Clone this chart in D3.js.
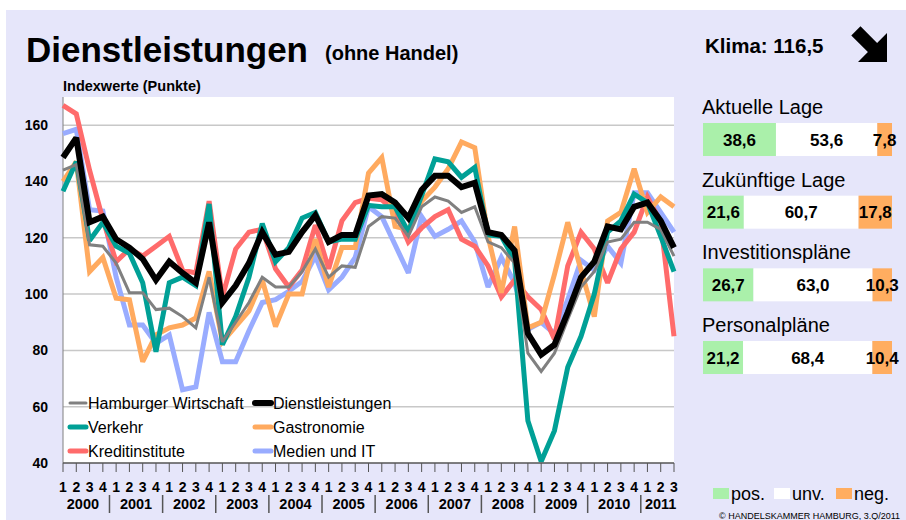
<!DOCTYPE html>
<html>
<head>
<meta charset="utf-8">
<script src="https://cdn.jsdelivr.net/npm/d3@7"></script>
<style>
  body { margin: 0; background: #fff; }
  svg { display: block; font-family: "Liberation Sans", Arial, sans-serif; }
</style>
</head>
<body>
<svg id="chart" width="906" height="520"></svg>
<script>
var years = ["2000", "2001", "2002", "2003", "2004", "2005", "2006", "2007", "2008", "2009", "2010", "2011"];
var quartersInYear = [4, 4, 4, 4, 4, 4, 4, 4, 4, 4, 4, 3];

var hamburg = [144, 146, 117.5, 117, 111, 100.5, 100.5, 94.5, 95, 92, 88, 106, 83, 90, 97, 106, 102.5, 102.5, 108, 116, 106, 110, 109.5, 124, 127.5, 127, 120.5, 131, 134.5, 133, 129, 131, 118.5, 116.5, 111, 79, 72.5, 79, 91, 102.5, 108, 118.5, 119.5, 125.5, 125.5, 123, 113.5];
var dienst = [148.5, 155.5, 125.5, 127.5, 119.5, 116.5, 112.5, 105, 111.5, 107.5, 104, 125.5, 97, 103, 111, 122, 114, 115, 122, 128, 118.5, 121, 121, 135, 135.5, 132.5, 127, 137, 142, 142, 138, 139.5, 122, 121, 115.5, 86, 78.5, 82, 93.5, 106, 111.5, 124, 123, 131, 132.5, 126, 116.5];
var verkehr = [136.5, 147, 119, 125.5, 117, 114.5, 104, 79.5, 104, 106, 103, 132, 82, 92, 106, 125, 111.5, 116.5, 127, 129, 118.5, 119.5, 119.5, 131.5, 131, 131, 122, 135, 148, 147, 141.5, 145, 121, 120.5, 112, 55, 40.5, 51.5, 74, 85, 100, 122, 126, 135.5, 132.5, 120.5, 108];
var gastro = [140, 147, 108, 113, 98.5, 98, 76, 85.5, 88, 89, 91.5, 108, 83, 88.5, 94, 105, 88.5, 100, 100, 119.5, 102.5, 116.5, 116.5, 143, 148.5, 124, 123, 133, 138, 144.5, 154, 152, 120.5, 100.5, 124, 88, 90, 107, 125.5, 108.5, 92, 126, 129, 144.5, 129, 134.5, 131];
var kredit = [167, 164, 144, 126.5, 111.5, 116, 113.5, 117, 120.5, 108.5, 107.5, 133, 99, 116, 122, 123, 109, 102.5, 108.5, 124.5, 109, 126, 132.5, 134, 133.5, 129.5, 118.5, 123.5, 127.5, 130, 119.5, 117, 110, 99, 105, 99, 94.5, 84, 110, 122, 116, 104, 116, 122, 134.5, 125.5, 85];
var medien = [157, 158.5, 130, 129.5, 106, 89, 89, 82.5, 85.5, 66, 67, 93.5, 76, 76, 87, 97, 98, 101, 104.5, 113.5, 101.5, 106, 113, 131, 127.5, 117.5, 107.5, 127.5, 120.5, 123, 126, 118.5, 102.5, 113, 104, 87.5, 90, 86, 98, 112, 108.5, 117, 111, 136, 136, 129, 122];

var seriesNames = ["Hamburger Wirtschaft", "Dienstleistungen", "Verkehr", "Gastronomie", "Kreditinstitute", "Medien und IT"];
var seriesColors = ["#808080", "#000000", "#00A096", "#FFAA5F", "#FF6B6B", "#99ACFF"];
var seriesWidths = [3, 6, 5, 5, 5, 5];

var yTicks = [40, 60, 80, 100, 120, 140, 160];

var surveyRows = ["Aktuelle Lage", "Zukünftige Lage", "Investitionspläne", "Personalpläne"];
var posValues = [38.6, 21.6, 26.7, 21.2];
var unvValues = [53.6, 60.7, 63.0, 68.4];
var negValues = [7.8, 17.8, 10.3, 10.4];
var keyLabels = ["pos.", "unv.", "neg."];
var keyColors = ["#AAF0AA", "#FFFFFF", "#FFAD60"];
var klima = "116,5";

(function() {
  var svg = d3.select("#chart");
  var allSeries = [hamburg, dienst, verkehr, gastro, kredit, medien];

  // quarter categories
  var cats = [];
  years.forEach(function(yr, i) {
    for (var q = 1; q <= quartersInYear[i]; q++) {
      cats.push({ key: yr + "Q" + q, year: yr, q: q });
    }
  });

  var x = d3.scalePoint().domain(cats.map(function(d) { return d.key; })).range([63, 674]);
  var y = d3.scaleLinear().domain([40, 170]).range([463, 97]);

  // background
  svg.append("rect").attr("x", 6).attr("y", 10).attr("width", 900).attr("height", 510)
    .attr("fill", "#E6E6FA");
  svg.append("rect").attr("x", 63).attr("y", y(170)).attr("width", 674 - 63).attr("height", y(40) - y(170))
    .attr("fill", "#fff");

  // titles
  svg.append("text").attr("x", 26).attr("y", 62).attr("font-size", 35).attr("font-weight", "bold")
    .text("Dienstleistungen");
  svg.append("text").attr("x", 325).attr("y", 60).attr("font-size", 20).attr("font-weight", "bold")
    .text("(ohne Handel)");
  svg.append("text").attr("x", 63).attr("y", 91).attr("font-size", 14.5).attr("font-weight", "bold")
    .text("Indexwerte (Punkte)");
  svg.append("text").attr("x", 705).attr("y", 53).attr("font-size", 20.5).attr("font-weight", "bold")
    .text("Klima: " + klima);

  // trend arrow
  svg.append("path")
    .attr("transform", "translate(887,62) rotate(45)")
    .attr("d", "M0,0 L-20.5,-20.5 L-20.5,-6.5 L-44,-6.5 L-44,6.5 L-20.5,6.5 L-20.5,20.5 Z")
    .attr("fill", "#000");

  // grid
  svg.append("g").selectAll("line").data(yTicks.slice(1)).enter().append("line")
    .attr("x1", 63).attr("x2", 674)
    .attr("y1", function(d) { return y(d); }).attr("y2", function(d) { return y(d); })
    .attr("stroke", "#C8C8C8").attr("stroke-width", 1.5);

  svg.append("g").selectAll("text").data(yTicks).enter().append("text")
    .attr("x", 48).attr("y", function(d) { return y(d) + 5; })
    .attr("text-anchor", "end").attr("font-size", 14).attr("font-weight", "bold")
    .text(function(d) { return d; });

  svg.append("line").attr("x1", 63).attr("x2", 63).attr("y1", y(170)).attr("y2", y(40))
    .attr("stroke", "#808080").attr("stroke-width", 1);

  // series lines, black on top
  var line = d3.line()
    .x(function(d, i) { return x(cats[i].key); })
    .y(function(d) { return y(d); });

  [5, 4, 3, 2, 0, 1].forEach(function(k) {
    svg.append("path")
      .datum(allSeries[k])
      .attr("d", line)
      .attr("fill", "none")
      .attr("stroke", seriesColors[k])
      .attr("stroke-width", seriesWidths[k])
      .attr("stroke-linejoin", "miter")
      .attr("stroke-miterlimit", 2.5);
  });

  // x axis
  svg.append("line").attr("x1", 63).attr("x2", 674).attr("y1", y(40)).attr("y2", y(40))
    .attr("stroke", "#555").attr("stroke-width", 1.5);
  svg.append("g").selectAll("line").data(cats).enter().append("line")
    .attr("x1", function(d) { return x(d.key); }).attr("x2", function(d) { return x(d.key); })
    .attr("y1", y(40)).attr("y2", y(40) + 9)
    .attr("stroke", "#555").attr("stroke-width", 1);
  svg.append("g").selectAll("text").data(cats).enter().append("text")
    .attr("x", function(d) { return x(d.key); }).attr("y", 492)
    .attr("text-anchor", "middle").attr("font-size", 14).attr("font-weight", "bold")
    .text(function(d) { return d.q; });

  var step = x.step();
  years.forEach(function(yr, i) {
    var first = x(yr + "Q1");
    var last = x(yr + "Q" + quartersInYear[i]);
    svg.append("text").attr("x", (first + last) / 2).attr("y", 509)
      .attr("text-anchor", "middle").attr("font-size", 14.5).attr("font-weight", "bold")
      .text(yr);
    if (i > 0) {
      svg.append("line").attr("x1", first - step / 2).attr("x2", first - step / 2)
        .attr("y1", 495).attr("y2", 513)
        .attr("stroke", "#555").attr("stroke-width", 1.5);
    }
  });

  // legend
  var legendX = [70, 255];
  var legendY = [403, 427, 451];
  seriesNames.forEach(function(name, i) {
    var lx = legendX[i % 2], ly = legendY[Math.floor(i / 2)];
    svg.append("line").attr("x1", lx).attr("x2", lx + 16).attr("y1", ly).attr("y2", ly)
      .attr("stroke", seriesColors[i]).attr("stroke-width", seriesWidths[i])
      .attr("stroke-linecap", "round");
    svg.append("text").attr("x", lx + 18).attr("y", ly + 5.5)
      .attr("font-size", 16).text(name);
  });

  // survey bars
  var xs = d3.scaleLinear().domain([0, 100]).range([703, 892]);
  var rowY = d3.scaleLinear().domain([0, 3]).range([114, 332]);
  var fmt = function(v) { return d3.format(".1f")(v).replace(".", ","); };

  surveyRows.forEach(function(name, i) {
    var ty = rowY(i);
    svg.append("text").attr("x", 702).attr("y", ty).attr("font-size", 20).text(name);
    var parts = [posValues[i], unvValues[i], negValues[i]];
    var start = 0;
    parts.forEach(function(v, j) {
      var x0 = xs(start), x1 = xs(Math.min(100, start + v));
      svg.append("rect").attr("x", x0).attr("y", ty + 9).attr("width", x1 - x0).attr("height", 33)
        .attr("fill", keyColors[j]);
      svg.append("text").attr("x", (x0 + x1) / 2).attr("y", ty + 9 + 16.5 + 6)
        .attr("text-anchor", "middle").attr("font-size", 17).attr("font-weight", "bold")
        .text(fmt(v));
      start += v;
    });
  });

  // key
  var keyX = [713, 774, 836];
  keyLabels.forEach(function(lbl, j) {
    svg.append("rect").attr("x", keyX[j]).attr("y", 488).attr("width", 16).attr("height", 11)
      .attr("fill", keyColors[j]);
    svg.append("text").attr("x", keyX[j] + 18).attr("y", 500).attr("font-size", 18).text(lbl);
  });

  svg.append("text").attr("x", 719).attr("y", 518.5).attr("font-size", 9)
    .text("© HANDELSKAMMER HAMBURG, 3.Q/2011");
})();
</script>
</body>
</html>
